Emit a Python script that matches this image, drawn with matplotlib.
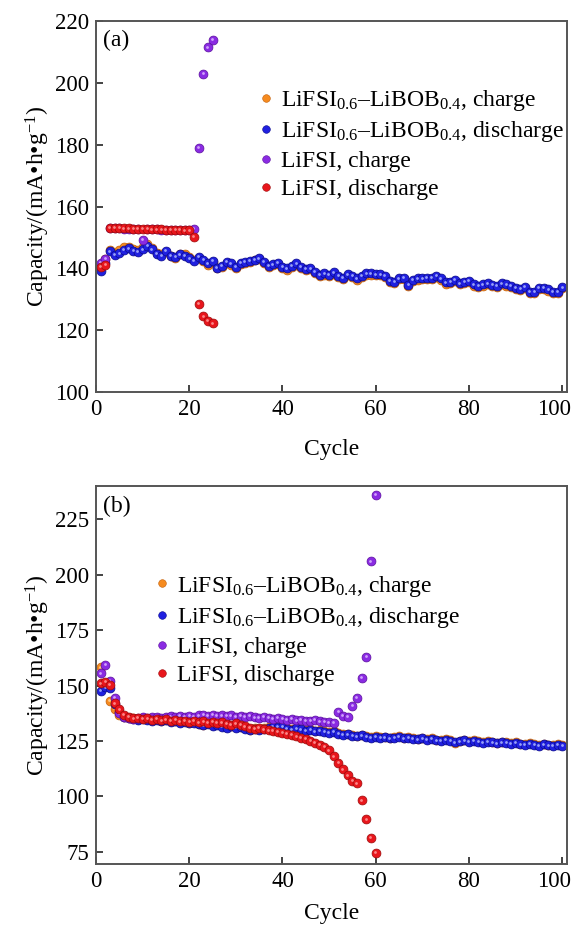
import matplotlib
matplotlib.use("Agg")

import matplotlib.pyplot as plt
from matplotlib.lines import Line2D
from matplotlib.transforms import offset_copy, ScaledTranslation

plt.rcParams["font.family"] = ["Liberation Serif", "DejaVu Serif"]
plt.rcParams["mathtext.fontset"] = "custom"
plt.rcParams["mathtext.rm"] = "Liberation Serif"
plt.rcParams["mathtext.it"] = "Liberation Serif:italic"

# ---- data: panel (a) ----
cyc_a = list(range(1, 101))
a_mix_charge = [
    140.5, 143.0, 145.8, 145.0, 146.0, 146.8, 147.0, 146.2, 146.0, 147.0,
    147.8, 146.5, 145.0, 144.6, 145.2, 144.0, 143.5, 144.8, 144.5, 143.6,
    142.6, 143.4, 142.3, 141.2, 142.0, 140.0, 140.4, 141.6, 141.2, 140.2,
    141.5, 141.8, 142.0, 142.6, 143.0, 141.8, 140.4, 141.0, 141.5, 140.2,
    139.6, 140.4, 141.2, 140.1, 139.4, 139.7, 138.5, 137.5, 138.0, 137.6,
    138.3, 137.2, 136.6, 137.8, 137.2, 136.4, 137.3, 138.0, 138.0, 137.8,
    137.7, 137.2, 135.5, 135.3, 136.5, 136.6, 134.2, 135.8, 136.4, 136.5,
    136.6, 136.7, 137.2, 136.4, 135.1, 135.3, 135.8, 134.8, 135.3, 135.5,
    134.4, 134.0, 134.4, 134.8, 134.2, 134.0, 134.8, 134.4, 134.0, 133.2,
    132.9, 133.7, 132.1, 132.0, 133.2, 133.4, 132.8, 132.1, 132.0, 133.5,
]
a_mix_discharge = [
    139.2, 141.8, 145.5, 144.4, 144.9, 145.9, 146.5, 145.6, 145.3, 146.2,
    147.3, 146.2, 144.6, 144.1, 145.6, 144.1, 143.8, 144.5, 144.1, 143.2,
    142.4, 143.8, 142.7, 141.6, 142.4, 140.2, 140.8, 142.1, 141.6, 140.5,
    141.9, 142.1, 142.4, 142.7, 143.2, 142.1, 140.8, 141.3, 141.9, 140.5,
    140.0, 140.8, 141.6, 140.5, 139.8, 140.0, 138.9, 137.8, 138.4, 137.9,
    138.7, 137.6, 137.0, 138.1, 137.6, 136.8, 137.6, 138.4, 138.4, 138.1,
    138.1, 137.6, 135.9, 135.7, 136.8, 137.0, 134.6, 136.2, 136.8, 136.8,
    137.0, 137.0, 137.6, 136.8, 135.5, 135.7, 136.2, 135.2, 135.7, 135.9,
    134.8, 134.4, 134.8, 135.2, 134.6, 134.4, 135.2, 134.8, 134.4, 133.6,
    133.3, 134.1, 132.5, 132.3, 133.6, 133.8, 133.2, 132.5, 132.4, 133.9,
]
cyc_a_li = list(range(1, 26))
a_li_charge = [
    141.8, 143.0, 153.0, 152.9, 152.9, 152.8, 152.8, 152.7, 152.7, 149.3,
    152.6, 152.6, 152.6, 152.5, 152.5, 152.5, 152.4, 152.4, 152.4, 152.5,
    152.8, 179.0, 203.0, 211.5, 214.0,
]
a_li_discharge = [
    140.6, 141.2, 153.1, 153.0, 153.0, 152.9, 152.9, 152.8, 152.8, 152.7,
    152.7, 152.6, 152.6, 152.6, 152.5, 152.5, 152.4, 152.4, 152.3, 152.3,
    150.3, 128.5, 124.5, 123.0, 122.2,
]

# ---- data: panel (b) ----
cyc_b = list(range(1, 101))
b_mix_charge = [
    158.2, 151.0, 143.2, 139.5, 136.8, 135.6, 135.4, 135.2, 134.9, 135.3,
    134.8, 134.5, 134.9, 134.2, 134.6, 133.9, 134.2, 133.5, 133.8, 133.2,
    133.5, 132.8, 132.3, 132.9, 132.1, 132.5, 131.7, 131.3, 131.9, 131.1,
    131.5, 130.7, 130.1, 130.8, 130.3, 130.9, 131.3, 131.6, 131.8, 131.5,
    130.9, 130.4, 131.0, 130.5, 129.9, 130.3, 129.6, 130.0, 129.3, 128.9,
    129.3, 128.6, 127.9, 128.3, 127.6, 127.3, 127.8, 127.1, 126.8, 127.2,
    126.6, 126.9, 126.4, 126.8, 127.1, 126.5, 126.8, 126.3, 126.0, 126.4,
    125.8, 126.1, 125.6, 125.2, 125.7, 125.3, 124.1, 125.1, 125.5, 125.0,
    125.2, 124.8, 124.5, 125.0, 124.6, 124.2, 124.7, 124.3, 123.9, 124.4,
    123.8, 123.5, 124.0, 123.6, 123.2, 123.7, 123.3, 123.0, 123.4, 123.2,
]
b_mix_discharge = [
    147.5, 149.2, 148.8, 141.5, 138.2, 136.0, 135.3, 135.0, 134.6, 135.0,
    134.5, 134.2, 134.6, 133.9, 134.3, 133.6, 133.9, 133.2, 133.5, 132.9,
    133.2, 132.5, 132.0, 132.6, 131.8, 132.2, 131.4, 131.0, 131.6, 130.8,
    131.2, 130.4, 129.8, 130.5, 130.0, 130.6, 131.0, 131.3, 131.5, 131.2,
    130.6, 130.1, 130.7, 130.2, 129.6, 130.0, 129.3, 129.7, 129.0, 128.6,
    129.0, 128.3, 127.6, 128.0, 127.3, 127.0, 127.5, 126.8, 126.5, 126.9,
    126.3, 126.6, 126.1, 126.5, 126.8, 126.2, 126.5, 126.0, 125.7, 126.1,
    125.5, 125.8, 125.3, 124.9, 125.4, 125.0, 124.3, 124.8, 125.2, 124.7,
    124.9, 124.5, 124.2, 124.7, 124.3, 123.9, 124.4, 124.0, 123.6, 124.1,
    123.5, 123.2, 123.7, 123.3, 122.9, 123.4, 123.0, 122.7, 123.1, 122.9,
]
cyc_b_li = list(range(1, 61))
b_li_charge = [
    155.5, 159.3, 152.0, 144.5, 137.5, 136.0, 135.4, 135.0, 135.3, 135.6,
    135.2, 135.6, 135.9, 135.4, 135.8, 136.1, 135.7, 136.2, 135.8, 136.3,
    136.0, 136.5, 136.8, 136.4, 136.7, 136.3, 136.6, 136.2, 136.5, 136.0,
    136.3, 135.9, 136.2, 135.7, 135.4, 135.8, 135.3, 135.0, 135.4, 134.8,
    134.6, 134.9, 134.3, 134.6, 134.2, 134.0, 134.4, 133.8, 133.6, 133.4,
    133.3, 138.2, 136.2, 135.8, 140.8, 144.3, 153.3, 162.8, 206.0, 236.0,
]
b_li_discharge = [
    151.0, 151.5, 150.2, 142.0, 139.2, 136.8, 135.8, 135.2, 135.5, 134.8,
    135.2, 134.6, 134.9, 134.3, 134.7, 134.1, 134.4, 133.8, 134.2, 133.6,
    134.0, 133.4, 133.8, 133.2, 133.6, 133.0, 133.4, 132.8, 132.4, 132.9,
    132.2, 131.6, 131.0, 130.6, 130.9, 130.2, 129.8, 129.4, 129.0, 128.6,
    128.2, 127.6, 127.0, 126.4, 125.8, 125.0, 124.2, 123.3, 122.2, 120.8,
    118.0, 115.0, 112.2, 109.5, 107.0, 105.8, 98.2, 89.6, 81.2, 74.6,
]

labels = [
    "LiFSI$_{0.6}$\u2013LiBOB$_{0.4}$, charge",
    "LiFSI$_{0.6}$\u2013LiBOB$_{0.4}$, discharge",
    "LiFSI, charge",
    "LiFSI, discharge",
]
# face, edge, highlight
styles = [
    ("#F68B1F", "#C25E08", "#FFD6A0"),
    ("#2020E0", "#0A0A8C", "#AEB8FF"),
    ("#8A2BE2", "#5B0F9E", "#DDB8FF"),
    ("#E8161C", "#9C0A0A", "#FF9C9C"),
]

fig = plt.figure(figsize=(5.71, 9.25), dpi=100)
ax1 = fig.add_axes([0.168, 0.5762, 0.825, 0.401])
ax2 = fig.add_axes([0.168, 0.066, 0.825, 0.4086])


def balls(ax, x, y, st):
    face, edge, light = st
    ax.plot(x, y, "o", ls="none", ms=6.4, mfc=face, mec=edge, mew=0.5)
    tr = offset_copy(ax.transData, fig=fig, x=-0.7, y=0.7, units="dots")
    ax.plot(x, y, "o", ls="none", ms=2.0, mfc=light, mec="none",
            alpha=0.85, transform=tr)


balls(ax1, cyc_a, a_mix_charge, styles[0])
balls(ax1, cyc_a, a_mix_discharge, styles[1])
balls(ax1, cyc_a_li, a_li_charge, styles[2])
balls(ax1, cyc_a_li, a_li_discharge, styles[3])

balls(ax2, cyc_b, b_mix_charge, styles[0])
balls(ax2, cyc_b, b_mix_discharge, styles[1])
balls(ax2, cyc_b_li, b_li_charge, styles[2])
balls(ax2, cyc_b_li, b_li_discharge, styles[3])

ax1.set_xlim(0, 101)
ax1.set_ylim(100, 220)
ax1.set_yticks([100, 120, 140, 160, 180, 200, 220])
ax2.set_xlim(0, 101)
ax2.set_ylim(69.5, 240)
ax2.set_yticks([75, 100, 125, 150, 175, 200, 225])

handles = [Line2D([], [], ls="none", marker="o", ms=5.5, mfc=s[0],
                  mec=s[1], mew=0.4) for s in styles]

setup = [(ax1, "(a)", (0.345, 0.82), 14), (ax2, "(b)", (0.125, 0.768), 8)]
for ax, tag, leg_xy, xpad in setup:
    ax.set_xticks([0, 20, 40, 60, 80, 100])
    ax.tick_params(direction="in", length=5, width=1.2, labelsize=16.5,
                   colors="#222222", labelcolor="black", pad=5)
    for sp in ax.spines.values():
        sp.set_color("#555555")
        sp.set_linewidth(1.4)
    ax.set_xlabel("Cycle", fontsize=17, labelpad=xpad)
    ax.set_ylabel("Capacity/(mA\u2022h\u2022g$^{-1}$)", fontsize=17,
                  labelpad=2)
    ax.text(0.015, 0.975, tag, transform=ax.transAxes, fontsize=17,
            va="top", ha="left")
    ax.legend(handles, labels, loc="upper left", bbox_to_anchor=leg_xy,
              frameon=False, fontsize=17, handlelength=0.6,
              handletextpad=0.35, labelspacing=0.27, borderpad=0,
              borderaxespad=0)
    # last x tick label sits a little left so it stays inside the figure
    last = ax.get_xticklabels()[-1]
    last.set_transform(last.get_transform()
                       + ScaledTranslation(-8 / 100, 0, fig.dpi_scale_trans))

plt.savefig("out.png", dpi=100)
print("Saved: out.png")
